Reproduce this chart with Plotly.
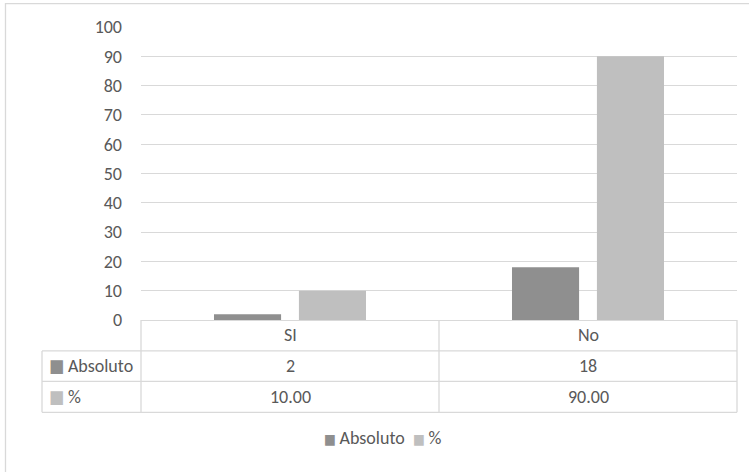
import plotly.graph_objects as go

# Data
categories = ["SI", "No"]
absoluto = [2, 18]
porcentaje = [10.00, 90.00]
series_names = ["Absoluto", "%"]
y_ticks = [0, 10, 20, 30, 40, 50, 60, 70, 80, 90, 100]

W, H = 749, 472
L, R, T, B = 141, 12, 27, 151.5
PW, PH = W - L - R, H - T - B

DARK = "#8f8f8f"
LIGHT = "#bfbfbf"
GRID = "#d9d9d9"
TEXT = "#595959"
FONT = "Carlito, 'Liberation Sans Narrow', 'DejaVu Sans Condensed', Arial, sans-serif"
FS = 18


def px(x):
    return (x - L) / PW


def py(y):
    return 1 - (y - T) / PH


fig = go.Figure()
fig.add_trace(go.Bar(x=categories, y=absoluto, name=series_names[0],
                     marker=dict(color=DARK, line=dict(width=0))))
fig.add_trace(go.Bar(x=categories, y=porcentaje, name=series_names[1],
                     marker=dict(color=LIGHT, line=dict(width=0))))

shapes = []


def hline(x0, x1, y):
    shapes.append(dict(type="line", xref="paper", yref="paper",
                       x0=px(x0), x1=px(x1), y0=py(y), y1=py(y),
                       line=dict(color=GRID, width=1.3)))


def vline(x, y0, y1):
    shapes.append(dict(type="line", xref="paper", yref="paper",
                       x0=px(x), x1=px(x), y0=py(y0), y1=py(y1),
                       line=dict(color=GRID, width=1.3)))


# chart frame
hline(5, W + 5, 3.5)
vline(5.5, 3, H + 5)

# data table grid
row_edges = [320.5, 351.5, 382, 413]
for y in row_edges[1:]:
    hline(42, L + PW, y)
vline(42, row_edges[1], row_edges[-1])
vline(L, row_edges[0], row_edges[-1])
vline(L + PW / 2, row_edges[0], row_edges[-1])
vline(L + PW, row_edges[0], row_edges[-1])

annotations = []
row_mid = [(row_edges[i] + row_edges[i + 1]) / 2 for i in range(3)]
cell_font = dict(size=FS, color=TEXT, family=FONT)
for cat in categories:
    annotations.append(dict(x=cat, y=py(row_mid[0]), xref="x", yref="paper",
                            xanchor="center", yanchor="middle",
                            text=cat, showarrow=False, font=cell_font))
for cat, a, p in zip(categories, absoluto, porcentaje):
    annotations.append(dict(x=cat, y=py(row_mid[1]), xref="x", yref="paper",
                            xanchor="center", yanchor="middle",
                            text=f"{a}", showarrow=False, font=cell_font))
    annotations.append(dict(x=cat, y=py(row_mid[2]), xref="x", yref="paper",
                            xanchor="center", yanchor="middle",
                            text=f"{p:.2f}", showarrow=False, font=cell_font))
for name, color, ym in zip(series_names, [DARK, LIGHT], row_mid[1:]):
    annotations.append(dict(x=px(47), y=py(ym), xref="paper", yref="paper",
                            xanchor="left", yanchor="middle", showarrow=False,
                            text=f'<span style="color:{color}">■</span>\u2009{name}',
                            font=cell_font))

# legend below the table
legend_text = "  ".join(
    f'<span style="color:{c};font-size:14px">■</span>\u2009{n}'
    for n, c in zip(series_names, [DARK, LIGHT]))
annotations.append(dict(x=px(382), y=py(439), xref="paper", yref="paper",
                        xanchor="center", yanchor="middle", showarrow=False,
                        text=legend_text, font=cell_font))

fig.update_layout(
    width=W, height=H,
    margin=dict(l=L, r=R, t=T, b=B),
    paper_bgcolor="white", plot_bgcolor="white",
    font=dict(family=FONT, size=FS, color=TEXT),
    barmode="group", bargap=0.43, bargroupgap=0.21,
    showlegend=False,
    shapes=shapes,
    annotations=annotations,
    xaxis=dict(showticklabels=False, ticks="", showgrid=False,
               showline=False, zeroline=False),
    yaxis=dict(range=[0, 100], tickvals=y_ticks, showgrid=True,
               gridcolor=GRID, gridwidth=1.3, zeroline=True,
               zerolinecolor=GRID, zerolinewidth=1.3, showline=False,
               ticks="", ticklabelstandoff=18,
               tickfont=dict(size=FS, color=TEXT, family=FONT)),
)

fig.write_html("out.html")
